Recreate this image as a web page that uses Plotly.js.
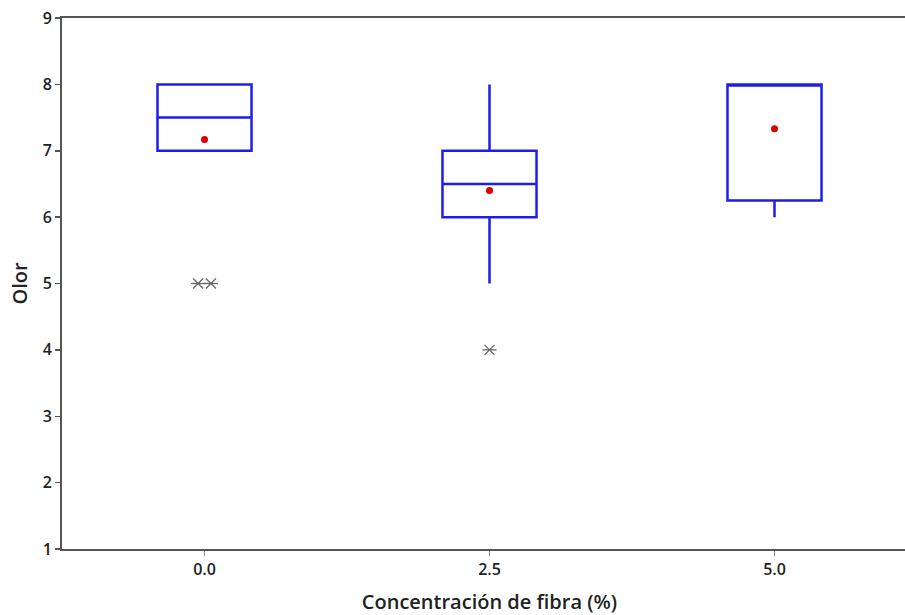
<!DOCTYPE html>
<html>
<head>
<meta charset="utf-8">
<script src="https://cdn.plot.ly/plotly-3.0.1.min.js"></script>
<style>
html, body { margin: 0; padding: 0; overflow: hidden; background: #fff; }
#chart { width: 917px; height: 615px; }
</style>
</head>
<body>
<div id="chart"></div>
<script>
// Data
const categories = ['0.0', '2.5', '5.0'];
const q1Values = [7, 6, 6.25];
const medianValues = [7.5, 6.5, 8];
const q3Values = [8, 7, 8];
const lowerWhisker = [7, 5, 6];
const upperWhisker = [8, 8, 8];
const meanValues = [7.17, 6.4, 7.33];
const outlierGroup = [0, 0, 1];   // index of category
const outlierValues = [5, 5, 4];

const boxColor = 'rgb(30,30,230)';
const traces = [];

categories.forEach((c, i) => {
  traces.push({
    type: 'box',
    x: [i],
    q1: [q1Values[i]],
    median: [medianValues[i]],
    q3: [q3Values[i]],
    lowerfence: [lowerWhisker[i]],
    upperfence: [upperWhisker[i]],
    width: 0.33,
    whiskerwidth: 0,
    line: { color: boxColor, width: 2.5 },
    fillcolor: 'rgba(0,0,0,0)',
    boxpoints: false,
    hoverinfo: 'skip',
    showlegend: false
  });
});

// Outliers: jitter duplicates side by side (like the reference)
const ox = [], oy = [];
const seen = {};
outlierGroup.forEach((g, k) => {
  const key = g + '_' + outlierValues[k];
  seen[key] = (seen[key] || 0) + 1;
});
const used = {};
outlierGroup.forEach((g, k) => {
  const key = g + '_' + outlierValues[k];
  const n = seen[key];
  used[key] = (used[key] || 0);
  const off = n > 1 ? (used[key] - (n - 1) / 2) * 0.045 : 0;
  used[key]++;
  ox.push(g + off);
  oy.push(outlierValues[k]);
});
['x-thin-open', 'line-ew-open'].forEach(sym => {
  traces.push({
    type: 'scatter', mode: 'markers',
    x: ox, y: oy,
    marker: { symbol: sym, size: 10, color: '#666', line: { color: '#666', width: 1.3 } },
    hoverinfo: 'skip', showlegend: false
  });
});

// Means
traces.push({
  type: 'scatter', mode: 'markers',
  x: categories.map((c, i) => i),
  y: meanValues,
  marker: { symbol: 'circle', size: 7, color: 'rgb(220,0,0)' },
  hoverinfo: 'skip', showlegend: false
});

const fontFam = '"Open Sans", "Noto Sans", sans-serif';
const layout = {
  width: 917, height: 615,
  margin: { l: 62, r: 0, t: 18, b: 66 },
  paper_bgcolor: '#fff', plot_bgcolor: '#fff',
  font: { family: fontFam, color: '#222' },
  xaxis: {
    range: [-0.5, 2.5],
    tickmode: 'array',
    tickvals: categories.map((c, i) => i),
    ticktext: categories,
    ticks: 'outside', ticklen: 5, tickwidth: 1.5, tickcolor: '#888',
    showgrid: false, zeroline: false,
    showline: true, linecolor: '#555', linewidth: 2, mirror: true,
    tickfont: { size: 16, color: '#222', weight: 600 },
    title: { text: 'Concentración de fibra (%)', font: { size: 20, color: '#222', weight: 600 }, standoff: 16 }
  },
  yaxis: {
    range: [1, 9],
    dtick: 1,
    ticks: 'outside', ticklen: 5, tickwidth: 1.5, tickcolor: '#555',
    showgrid: false, zeroline: false,
    showline: true, linecolor: '#555', linewidth: 2, mirror: true,
    tickfont: { size: 16, color: '#222', weight: 600 },
    title: { text: 'Olor', font: { size: 20, color: '#222', weight: 600 }, standoff: 10 }
  }
};

Plotly.newPlot('chart', traces, layout, { displayModeBar: false, staticPlot: true });
</script>
</body>
</html>
